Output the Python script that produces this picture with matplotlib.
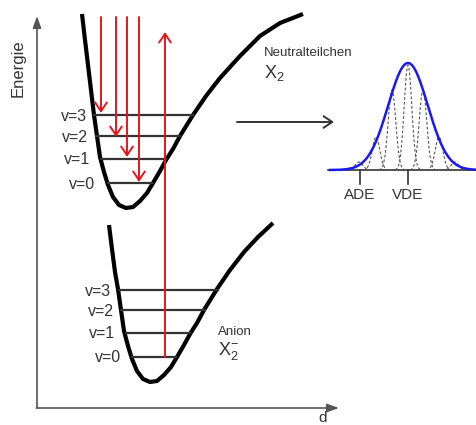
import numpy as np
import matplotlib
matplotlib.use("Agg")
import matplotlib.pyplot as plt

plt.rcParams["font.family"] = ["Liberation Sans", "DejaVu Sans"]

# ---- data (pixel units, y grows downwards) ----
# neutral potential curve X2
neutral_x = [82, 85, 88, 91, 94, 97, 100, 104, 108, 113, 119, 126, 133, 140, 147,
             153, 160, 166, 173, 180, 193, 206, 220, 240, 260, 280, 303]
neutral_y = [14, 40, 65, 90, 115, 136, 157, 172, 185, 197, 205, 208, 207, 201, 193,
             183, 171, 160, 149, 136, 115, 96, 78, 56, 36, 23, 14]
# anion potential curve X2-
anion_x = [109, 112, 115, 118, 121, 124, 128, 132, 137, 143, 150, 157, 164, 171,
           177, 184, 190, 197, 204, 217, 230, 244, 258, 273]
anion_y = [225, 249, 272, 289, 310, 331, 346, 359, 371, 379, 382, 381, 375, 367,
           357, 345, 334, 323, 310, 289, 270, 252, 237, 223]

levels = ["v=0", "v=1", "v=2", "v=3"]
neutral_level_y = [183, 159, 136, 115]
neutral_level_x0 = [108, 101, 96, 94]
neutral_level_x1 = [152, 166, 180, 193]
neutral_label_x = [95, 90, 88, 87]
anion_level_y = [357, 333, 310, 290]
anion_level_x0 = [132, 126, 121, 119]
anion_level_x1 = [176, 190, 205, 218]
anion_label_x = [121, 115, 114, 111]

# emission arrows (down), left to right, and the detachment arrow
down_x = [101, 116, 127, 139]
down_end = [113, 137, 157, 182]
up_x = 165

# photoelectron spectrum
peak_pos = [359, 376, 392, 408, 423, 439, 455]
peak_height = [8, 33, 80, 105, 80, 33, 8]
env_center = 408
env_height = 107
env_sigma = 19.7
base_y = 170
ade_x, vde_x = 360, 408

W, H = 476, 425
fig = plt.figure(figsize=(W / 100, H / 100), dpi=100)
ax = fig.add_axes([0, 0, 1, 1])
ax.set_xlim(0, W)
ax.set_ylim(H, 0)
ax.axis("off")

axis_col = "#555555"
text_col = "#333333"
red = "#e8141c"

# axes
ax.annotate("", xy=(37, 16), xytext=(37, 408),
            arrowprops=dict(arrowstyle="-|>,head_length=0.7,head_width=0.25",
                            color=axis_col, lw=1.2, shrinkA=0, shrinkB=0, mutation_scale=10))
ax.annotate("", xy=(339, 408), xytext=(36.4, 408),
            arrowprops=dict(arrowstyle="-|>,head_length=0.7,head_width=0.25",
                            color=axis_col, lw=1.2, shrinkA=0, shrinkB=0, mutation_scale=10))
ax.text(18, 68, "Energie", rotation=90, ha="center", va="center", fontsize=12, color=text_col)
ax.text(323, 425, "d", ha="center", va="bottom", fontsize=11, color=text_col)

# potential curves
ax.plot(neutral_x, neutral_y, color="black", lw=3, solid_capstyle="butt", solid_joinstyle="round")
ax.plot(anion_x, anion_y, color="black", lw=3, solid_capstyle="butt", solid_joinstyle="round")

# vibrational levels
for i, lab in enumerate(levels):
    ax.plot([neutral_level_x0[i], neutral_level_x1[i]], [neutral_level_y[i]] * 2,
            color="#333333", lw=1.6)
    ax.text(neutral_label_x[i], neutral_level_y[i] + 1, lab, ha="right", va="center",
            fontsize=11.5, color=text_col)
    ax.plot([anion_level_x0[i], anion_level_x1[i]], [anion_level_y[i]] * 2,
            color="#333333", lw=1.6)
    ax.text(anion_label_x[i], anion_level_y[i] + 1, lab, ha="right", va="center",
            fontsize=11.5, color=text_col)

# red arrows
red_style = "->,head_length=0.45,head_width=0.3"
for x, yend in zip(down_x, down_end):
    ax.annotate("", xy=(x, yend), xytext=(x, 17),
                arrowprops=dict(arrowstyle=red_style, color=red, lw=1.4,
                                shrinkA=0, shrinkB=0, mutation_scale=14))
ax.annotate("", xy=(up_x, 32), xytext=(up_x, anion_level_y[0]),
            arrowprops=dict(arrowstyle=red_style, color=red, lw=1.4,
                            shrinkA=0, shrinkB=0, mutation_scale=14))

# labels
ax.text(264, 53, "Neutralteilchen", ha="left", va="center", fontsize=9.5, color=text_col)
ax.text(264, 73, r"$\mathregular{X_2}$", ha="left", va="center", fontsize=13, color=text_col)
ax.text(218, 332, "Anion", ha="left", va="center", fontsize=9.5, color=text_col)
ax.text(218, 351, r"$\mathregular{X_2^{-}}$", ha="left", va="center", fontsize=13, color=text_col)

# arrow to spectrum
ax.annotate("", xy=(334, 122), xytext=(237, 122),
            arrowprops=dict(arrowstyle="->,head_length=0.45,head_width=0.3", color="#333333",
                            lw=1.4, shrinkA=0, shrinkB=0, mutation_scale=14))

# spectrum
ax.plot([328, W], [base_y, base_y], color="#333333", lw=1.2)
xs = np.linspace(330, W, 400)
for p, h in zip(peak_pos, peak_height):
    xp = np.linspace(p - 13, p + 13, 80)
    ax.plot(xp, base_y - h * np.exp(-(xp - p) ** 2 / (2 * 3.8 ** 2)),
            color="#555555", lw=0.8, ls=(0, (2.5, 1.8)))
ax.plot(xs, base_y - env_height * np.exp(-(xs - env_center) ** 2 / (2 * env_sigma ** 2)),
        color="#1a1aee", lw=1.8)
for x, lab in [(ade_x, "ADE"), (vde_x, "VDE")]:
    ax.plot([x, x], [base_y, base_y + 14], color="#333333", lw=1.2)
    ax.text(x, 195, lab, ha="center", va="center", fontsize=11, color=text_col)

fig.savefig("out.png", dpi=100)
